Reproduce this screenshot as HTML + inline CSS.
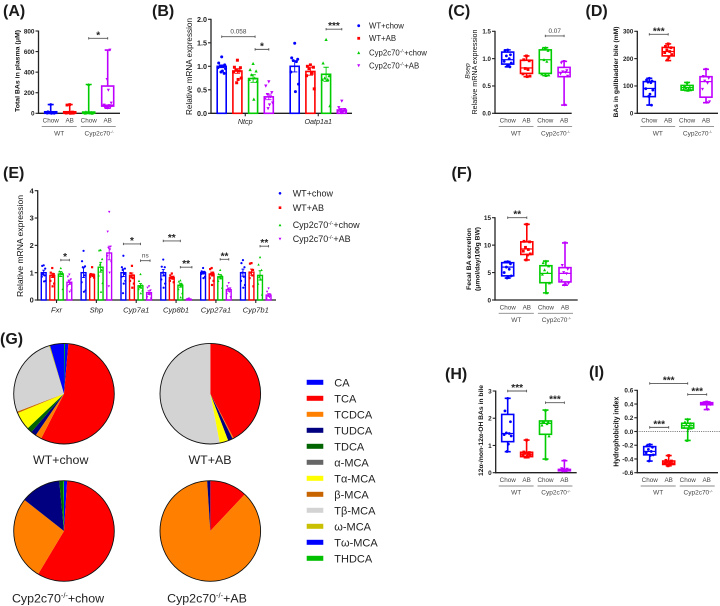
<!DOCTYPE html>
<html lang="en">
<head>
<meta charset="utf-8">
<title>Bile acid figure panels</title>
<style>
html,body{margin:0;padding:0;background:#fff;}
svg{display:block;font-family:"Liberation Sans",sans-serif;}
.letter{font-size:16px;font-weight:bold;fill:#1a1a1a;}
</style>
</head>
<body>
<svg id="fig" width="720" height="606" viewBox="0 0 720 606" xmlns="http://www.w3.org/2000/svg">
<rect width="720" height="606" fill="#fff"/>
<text class="letter" x="3" y="16">(A)</text>
<text class="letter" x="152" y="16">(B)</text>
<text class="letter" x="448" y="16">(C)</text>
<text class="letter" x="585.5" y="16">(D)</text>
<text class="letter" x="3" y="178">(E)</text>
<text class="letter" x="451.5" y="178">(F)</text>
<text class="letter" x="0" y="344">(G)</text>
<text class="letter" x="445" y="379">(H)</text>
<text class="letter" x="589" y="377">(I)</text>
</svg>
<script>
// ---------- shared categories ----------
const groupColors = ['#0000ff', '#ff0000', '#00cc00', '#bf00ff'];
const boxCategories = ['Chow', 'AB', 'Chow', 'AB'];
const legendGroups = ['WT+chow', 'WT+AB', 'Cyp2c70', 'Cyp2c70'];
const legendSuffix = ['', '', '+chow', '+AB'];

// ---------- panel A ----------
const aTicks = [0, 200, 400, 600, 800];
const aMin = [0, 0, 0, 50];
const aQ1 = [0, 0, 0, 70];
const aMed = [5, 5, 5, 80];
const aQ3 = [15, 15, 12, 265];
const aMax = [85, 85, 280, 615];
const aPoints = [[85, 15, 8, 5, 3, 2, 1, 0], [85, 80, 12, 6, 3, 2, 1, 0], [280, 15, 8, 5, 3, 1, 0], [50, 55, 60, 70, 75, 80, 100, 225, 330, 615]];

// ---------- panel C ----------
const cTicks = [0, 0.5, 1, 1.5];
const cMin = [0.85, 0.67, 0.69, 0.15];
const cQ1 = [0.9, 0.73, 0.73, 0.67];
const cMed = [0.98, 0.83, 0.98, 0.75];
const cQ3 = [1.12, 0.97, 1.16, 0.84];
const cMax = [1.16, 1.05, 1.2, 0.95];
const cPoints = [[1.16, 1.15, 1.07, 1.05, 1, 0.95, 0.92, 0.88, 0.86, 0.85], [1.05, 0.98, 0.96, 0.82, 0.8, 0.72, 0.68, 0.67], [1.2, 1.18, 1.15, 0.98, 0.95, 0.72, 0.7, 0.69], [0.95, 0.92, 0.78, 0.76, 0.75, 0.72, 0.68, 0.15]];

// ---------- panel D ----------
const dTicks = [0, 100, 200, 300];
const dMin = [30, 193, 83, 39];
const dQ1 = [61, 210, 85, 59];
const dMed = [91, 226, 94, 116];
const dQ3 = [116, 241, 102, 134];
const dMax = [128, 254, 113, 161];
const dPoints = [[128, 122, 118, 114, 112, 90, 85, 70, 62, 30], [254, 245, 240, 232, 226, 222, 215, 205, 195], [113, 100, 96, 94, 90, 88, 86, 84], [161, 135, 128, 118, 110, 88, 42, 39]];

// ---------- panel F ----------
const fTicks = [0, 5, 10, 15];
const fMin = [4, 7.3, 1.3, 2.7];
const fQ1 = [4.4, 8.3, 3.15, 3.3];
const fMed = [6, 9.3, 4.85, 4.85];
const fQ3 = [6.8, 10.6, 6.25, 5.9];
const fMax = [7, 13.8, 7.1, 10.4];
const fPoints = [[7, 6.9, 6.6, 6, 5.6, 5, 4.4, 4.1, 4], [13.8, 10.7, 10.6, 9.6, 9.2, 8.9, 8.4, 8.2, 7.3], [7.1, 6.8, 6.2, 5.5, 5, 4.7, 3.1, 1.3], [10.4, 6.3, 5.6, 5, 4.8, 3.5, 3, 2.8, 2.7]];

// ---------- panel H ----------
const hTicks = [0, 1, 2, 3];
const hMin = [0.77, 0.55, 0.5, 0.05];
const hQ1 = [1.14, 0.59, 1.41, 0.07];
const hMed = [1.44, 0.68, 1.81, 0.1];
const hQ3 = [2.14, 0.75, 1.9, 0.12];
const hMax = [2.73, 1.2, 2.3, 0.44];
const hPoints = [[2.73, 2.27, 1.87, 1.46, 1.44, 1.4, 1.35, 1.05, 0.78], [1.2, 0.76, 0.74, 0.72, 0.7, 0.66, 0.64, 0.6, 0.57], [2.3, 1.88, 1.87, 1.85, 1.8, 1.75, 1.35, 0.5], [0.44, 0.15, 0.13, 0.12, 0.1, 0.1, 0.08, 0.07, 0.05]];

// ---------- panel I ----------
const iTicks = [-0.6, -0.4, -0.2, 0, 0.2, 0.4, 0.6];
const iMin = [-0.43, -0.5, -0.13, 0.32];
const iQ1 = [-0.34, -0.48, 0.05, 0.39];
const iMed = [-0.29, -0.46, 0.085, 0.41];
const iQ3 = [-0.22, -0.43, 0.12, 0.42];
const iMax = [-0.19, -0.35, 0.18, 0.43];
const iPoints = [[-0.19, -0.21, -0.23, -0.26, -0.29, -0.31, -0.34, -0.35, -0.43], [-0.35, -0.42, -0.43, -0.44, -0.45, -0.46, -0.47, -0.48, -0.5], [0.18, 0.14, 0.12, 0.1, 0.08, 0.06, 0.05, 0.04, -0.13], [0.43, 0.42, 0.42, 0.41, 0.41, 0.4, 0.39, 0.32]];

// ---------- panel B ----------
const bGenes = ['Ntcp', 'Oatp1a1'];
const bTicks = [0, 0.5, 1, 1.5, 2];
const bMeans = [[1, 0.9, 0.74, 0.35], [1, 0.89, 0.83, 0.07]];
const bSems = [[0.03, 0.05, 0.08, 0.06], [0.12, 0.08, 0.15, 0.03]];
const bPoints = [
  [[1.2, 1.07, 1.03, 1, 1, 0.97, 0.95, 0.9, 0.88, 0.85], [1.13, 0.98, 0.97, 0.92, 0.9, 0.88, 0.75, 0.72, 0.65], [1.06, 0.93, 0.9, 0.82, 0.75, 0.72, 0.68, 0.3], [0.67, 0.58, 0.44, 0.4, 0.35, 0.3, 0.22, 0.18, 0.1]],
  [[1.49, 1.18, 1.15, 1.12, 1.1, 0.88, 0.62, 0.46], [1.03, 1, 0.98, 0.95, 0.85, 0.8, 0.52], [1.57, 1.07, 0.8, 0.75, 0.72, 0.72, 0.16], [0.26, 0.12, 0.08, 0.07, 0.05, 0.04, 0.03, 0.02, 0.01]]
];

// ---------- panel E ----------
const eGenes = ['Fxr', 'Shp', 'Cyp7a1', 'Cyp8b1', 'Cyp27a1', 'Cyp7b1'];
const eTicks = [0, 1, 2, 3, 4];
const eMeans = [[1, 0.9, 0.95, 0.65], [1, 0.92, 1.2, 1.72], [1, 0.9, 0.52, 0.27], [1, 0.82, 0.54, 0.02], [1, 0.95, 0.85, 0.38], [1, 1.02, 0.9, 0.18]];
const eSems = [[0.09, 0.08, 0.09, 0.08], [0.18, 0.04, 0.18, 0.25], [0.14, 0.09, 0.08, 0.07], [0.12, 0.04, 0.07, 0.01], [0.05, 0.07, 0.08, 0.06], [0.13, 0.11, 0.17, 0.05]];
const ePoints = [
  [[1.27, 1.25, 1.15, 0.95, 0.9, 0.85, 0.7, 0.68], [1.17, 1, 0.95, 0.9, 0.85, 0.7, 0.6, 0.5], [1.17, 1.05, 1, 0.97, 0.95, 0.9, 0.4], [0.93, 0.85, 0.75, 0.7, 0.6, 0.5, 0.35, 0.3]],
  [[1.8, 1.42, 1.23, 1.2, 0.9, 0.65, 0.35, 0.3], [1.2, 0.95, 0.93, 0.9, 0.88, 0.85, 0.82], [1.83, 1.82, 1.5, 1.3, 1.1, 0.9, 0.62, 0.3], [3.22, 2.5, 1.95, 1.9, 1.85, 1.6, 1.4, 1, 0.5]],
  [[1.62, 1.2, 1.15, 1.1, 0.95, 0.85, 0.7, 0.6, 0.25], [1.25, 0.98, 0.9, 0.85, 0.8, 0.7, 0.6, 0.45], [0.95, 0.7, 0.55, 0.5, 0.45, 0.4, 0.35, 0.25], [0.5, 0.45, 0.35, 0.25, 0.2, 0.1, 0.05]],
  [[1.48, 1.22, 1.2, 1, 0.9, 0.75, 0.6, 0.45], [0.97, 0.9, 0.85, 0.8, 0.78, 0.7, 0.65], [0.72, 0.68, 0.6, 0.55, 0.5, 0.4, 0.25, 0.1], [0.05, 0.03, 0.02, 0.02, 0.01, 0.01]],
  [[1.17, 1.05, 1.03, 1, 0.98, 0.95, 0.85, 0.8], [1.17, 1.13, 1, 0.95, 0.9, 0.8, 0.7, 0.55], [1.1, 0.95, 0.9, 0.85, 0.8, 0.7, 0.45], [0.62, 0.5, 0.42, 0.38, 0.3, 0.22, 0.1]],
  [[1.46, 1.35, 1.2, 1, 0.85, 0.7, 0.55, 0.45], [1.35, 1.33, 1.1, 1, 0.9, 0.8, 0.5], [1.57, 1.3, 1.1, 0.85, 0.75, 0.6, 0.2], [0.42, 0.3, 0.2, 0.15, 0.1, 0.05]]
];

// ---------- panel G ----------
const pieSpecies = ['CA', 'TCA', 'TCDCA', 'TUDCA', 'TDCA', 'α-MCA', 'Tα-MCA', 'β-MCA', 'Tβ-MCA', 'ω-MCA', 'Tω-MCA', 'THDCA'];
const pieColors = ['#0000ff', '#ff0000', '#ff8000', '#000080', '#006400', '#666666', '#ffff00', '#c86400', '#d3d3d3', '#c8c000', '#0000ff', '#00c000'];
const pieWtChow = [1.4, 56.1, 2, 1.7, 1.7, 0, 5.8, 0.5, 26, 0.3, 4.5, 0.3];
const pieWtAb = [0, 42.3, 0.4, 1.5, 0, 0, 2.8, 0, 53, 0, 0, 0];
const pieKoChow = [1, 57.6, 27, 12.9, 1.2, 0, 0, 0, 0, 0, 0, 0.3];
const pieKoAb = [0, 12, 87, 1, 0, 0, 0, 0, 0, 0, 0, 0];

// ---------- helpers ----------
const SVGNS = 'http://www.w3.org/2000/svg';
const fig = document.getElementById('fig');
function add(parent, tag, attrs, text) {
  const n = document.createElementNS(SVGNS, tag);
  for (const k in attrs) n.setAttribute(k, attrs[k]);
  if (text !== undefined) n.textContent = text;
  parent.appendChild(n);
  
  return n;
}
function linear(d0, d1, r0, r1) {
  return function (v) { return r0 + (v - d0) * (r1 - r0) / (d1 - d0); };
}
function jitter(i, n) {
  const pattern = [0, -2.5, 2.5, -1.2, 1.4, -3.2, 3.2, 0.6, -0.6, 2];
  return pattern[i % pattern.length] * n;
}
function drawMarker(g, group, x, y, s) {
  const c = groupColors[group];
  let el;
  if (group === 0) {
    el = add(g, 'circle', { cx: x, cy: y, r: s, fill: c });
  } else if (group === 1) {
    el = add(g, 'rect', { x: x - s, y: y - s, width: 2 * s, height: 2 * s, fill: c });
  } else if (group === 2) {
    el = add(g, 'polygon', { points: (x - s * 1.1) + ',' + (y + s) + ' ' + (x + s * 1.1) + ',' + (y + s) + ' ' + x + ',' + (y - s * 1.1), fill: c });
  } else {
    el = add(g, 'polygon', { points: (x - s * 1.1) + ',' + (y - s) + ' ' + (x + s * 1.1) + ',' + (y - s) + ' ' + x + ',' + (y + s * 1.1), fill: c });
  }
  
}
function drawAxes(g, opt, ticks, y) {
  const axisY = add(g, 'line', { x1: opt.x0, x2: opt.x0, y1: opt.top - 0.5, y2: opt.bottom + 0.6, stroke: '#222', 'stroke-width': 1.3 });
  
  const axisX = add(g, 'line', { x1: opt.x0 - 0.6, x2: opt.xEnd, y1: opt.bottom, y2: opt.bottom, stroke: '#222', 'stroke-width': 1.3 });
  
  ticks.forEach(function (t) {
    const tick = add(g, 'line', { x1: opt.x0 - 3, x2: opt.x0, y1: y(t), y2: y(t), stroke: '#222', 'stroke-width': 1.1 });
    
    const label = add(g, 'text', { x: opt.x0 - 4, y: y(t) + opt.tickSize * 0.36, 'text-anchor': 'end', 'font-size': opt.tickSize, 'font-weight': opt.tickWeight || 'normal', fill: '#222' }, t.toFixed(opt.digits));
    
  });
}
function drawYTitle(g, x, cy, text, size, len, bold, italic) {
  const attrs = { x: 0, y: 0, transform: 'translate(' + x + ',' + cy + ') rotate(-90)', 'text-anchor': 'middle', 'font-size': size, fill: '#111' };
  if (len) { attrs.textLength = len; attrs.lengthAdjust = 'spacingAndGlyphs'; }
  if (bold) attrs['font-weight'] = 'bold';
  if (italic) attrs['font-style'] = 'italic';
  const t = add(g, 'text', attrs, text);
  
}
function drawBracket(g, x1, x2, yy, label) {
  const ln = add(g, 'path', { d: 'M' + x1 + ' ' + (yy - 1.2) + 'V' + (yy + 1.2) + 'M' + x1 + ' ' + yy + 'H' + x2 + 'M' + x2 + ' ' + (yy - 1.2) + 'V' + (yy + 1.2), fill: 'none', stroke: '#555', 'stroke-width': 0.9 });
  
  const isStar = label.indexOf('*') >= 0;
  const t = add(g, 'text', { x: (x1 + x2) / 2, y: isStar ? yy : yy - 3, 'text-anchor': 'middle', 'font-size': isStar ? 10 : 6.4, 'font-weight': isStar ? 'bold' : 'normal', fill: isStar ? '#222' : '#444' }, label);
  
}
function drawSuperName(g, x, yy, size, fill, suffix, anchor) {
  const t = add(g, 'text', { x: x, y: yy, 'text-anchor': anchor, 'font-size': size, fill: fill }, 'Cyp2c70');
  
  const sup = add(t, 'tspan', { dy: -size * 0.36, 'font-size': size * 0.6 }, '-/-');
  
  if (suffix) {
    const rest = add(t, 'tspan', { dy: size * 0.36 }, suffix);
    
  }
  return t;
}

// ---------- box-plot panels ----------
function drawBoxPanel(name, opt, ticks, mins, q1s, meds, q3s, maxs, points) {
  const g = add(fig, 'g', {});
  
  const y = linear(opt.dMin, opt.dMax, opt.bottom, opt.top);
  const x = function (i) { return opt.cat0 + i * opt.catStep; };
  drawAxes(g, opt, ticks, y);
  boxCategories.forEach(function (cat, i) {
    const c = groupColors[i];
    const cx = x(i);
    const wh = add(g, 'path', { d: 'M' + cx + ' ' + y(maxs[i]) + 'V' + y(q3s[i]) + 'M' + cx + ' ' + y(q1s[i]) + 'V' + y(mins[i]) + 'M' + (cx - 3) + ' ' + y(maxs[i]) + 'H' + (cx + 3) + 'M' + (cx - 3) + ' ' + y(mins[i]) + 'H' + (cx + 3), fill: 'none', stroke: c, 'stroke-width': 1.6 });
    
    const box = add(g, 'rect', { x: cx - 6, y: y(q3s[i]), width: 12, height: Math.max(0.5, y(q1s[i]) - y(q3s[i])), fill: '#fff', stroke: c, 'stroke-width': 1.6 });
    
    const med = add(g, 'line', { x1: cx - 6, x2: cx + 6, y1: y(meds[i]), y2: y(meds[i]), stroke: c, 'stroke-width': 1.2 });
    
    points[i].forEach(function (p, k) {
      drawMarker(g, i, cx + jitter(k, 1.1), y(p), 1.4);
    });
    const lab = add(g, 'text', { x: cx, y: opt.bottom + 9.4, 'text-anchor': 'middle', 'font-size': 6.3, fill: '#444' }, cat);
    
  });
  const lineY = opt.bottom + 13.3;
  const l1 = add(g, 'line', { x1: x(0) - 9, x2: x(1) + 7, y1: lineY, y2: lineY, stroke: '#888', 'stroke-width': 0.9 });
  
  const l2 = add(g, 'line', { x1: x(2) - 8, x2: x(3) + 8, y1: lineY, y2: lineY, stroke: '#888', 'stroke-width': 0.9 });
  
  const wt = add(g, 'text', { x: (x(0) + x(1)) / 2 - 1, y: opt.bottom + 22, 'text-anchor': 'middle', 'font-size': 6.5, fill: '#444' }, 'WT');
  
  drawSuperName(g, (x(2) + x(3)) / 2 + 1, opt.bottom + 22, 6.5, '#444', '', 'middle');
  opt.brackets.forEach(function (b) {
    drawBracket(g, x(b.from), x(b.to), y(b.value), b.label);
  });
  return { g: g, y: y };
}

const pA = drawBoxPanel('a', { x0: 38.5, xEnd: 120, top: 31, bottom: 113.3, dMin: 0, dMax: 800, cat0: 50.7, catStep: 19, tickSize: 6.4, tickWeight: 'bold', digits: 0, brackets: [{ from: 2, to: 3, value: 729, label: '*' }] }, aTicks, aMin, aQ1, aMed, aQ3, aMax, aPoints);
drawYTitle(pA.g, 19.5, 71, 'Total BAs in plasma (μM)', 6.8, 82, true);

const pC = drawBoxPanel('c', { x0: 495, xEnd: 571.7, top: 31.3, bottom: 113.3, dMin: 0, dMax: 1.5, cat0: 507.7, catStep: 18.8, tickSize: 6.2, tickWeight: 'bold', digits: 1, brackets: [{ from: 2, to: 3, value: 1.415, label: '0.07' }] }, cTicks, cMin, cQ1, cMed, cQ3, cMax, cPoints);
drawYTitle(pC.g, 469.5, 71, 'Bsep', 6.8, 0, false, true);
drawYTitle(pC.g, 477, 72, 'Relative mRNA expression', 7, 85, false);

const pD = drawBoxPanel('d', { x0: 637.3, xEnd: 718, top: 31.3, bottom: 113.3, dMin: 0, dMax: 300, cat0: 649.3, catStep: 18.9, tickSize: 6.2, tickWeight: 'bold', digits: 0, brackets: [{ from: 0, to: 1, value: 289, label: '***' }] }, dTicks, dMin, dQ1, dMed, dQ3, dMax, dPoints);
drawYTitle(pD.g, 618, 72, 'BAs in gallbladder bile (mM)', 6.8, 91, true);

const pF = drawBoxPanel('f', { x0: 495, xEnd: 577.7, top: 217.7, bottom: 300, dMin: 0, dMax: 15, cat0: 507.7, catStep: 19.1, tickSize: 6.4, tickWeight: 'bold', digits: 0, brackets: [{ from: 0, to: 1, value: 15, label: '**' }] }, fTicks, fMin, fQ1, fMed, fQ3, fMax, fPoints);
drawYTitle(pF.g, 471, 259, 'Fecal BA excretion', 6.8, 62, true);
drawYTitle(pF.g, 479.5, 259, '(μmol/day/100g BW)', 6.8, 64, true);

const pH = drawBoxPanel('h', { x0: 495.7, xEnd: 576.7, top: 391, bottom: 472.7, dMin: 0, dMax: 3, cat0: 507.7, catStep: 18.9, tickSize: 6.4, tickWeight: 'bold', digits: 0, brackets: [{ from: 0, to: 1, value: 3, label: '***' }, { from: 2, to: 3, value: 2.57, label: '***' }] }, hTicks, hMin, hQ1, hMed, hQ3, hMax, hPoints);
drawYTitle(pH.g, 483, 430.5, '12α-/non-12α-OH BAs in bile', 6.8, 91, true);

const pI = drawBoxPanel('i', { x0: 637.3, xEnd: 718, top: 390.3, bottom: 472.7, dMin: -0.6, dMax: 0.6, cat0: 649.7, catStep: 19, tickSize: 6.4, tickWeight: 'bold', digits: 1, brackets: [{ from: 0, to: 2, value: 0.7, label: '***' }, { from: 2, to: 3, value: 0.54, label: '***' }, { from: 0, to: 1, value: 0.06, label: '***' }] }, iTicks, iMin, iQ1, iMed, iQ3, iMax, iPoints);
drawYTitle(pI.g, 618.5, 431.7, 'Hydrophobicity index', 7, 70, true);
const zeroLine = add(pI.g, 'line', { x1: 637.3, x2: 720, y1: pI.y(0), y2: pI.y(0), stroke: '#444', 'stroke-width': 0.7, 'stroke-dasharray': '1 1.2' });


// ---------- bar panels ----------
function drawBarPanel(name, opt, ticks, genes, means, sems, points) {
  const g = add(fig, 'g', {});
  
  const y = linear(0, opt.dMax, opt.bottom, opt.top);
  const x = function (gene, group) { return opt.start + gene * opt.geneStep + group * opt.groupStep; };
  drawAxes(g, opt, ticks, y);
  genes.forEach(function (gene, gi) {
    means[gi].forEach(function (m, k) {
      const c = groupColors[k];
      const cx = x(gi, k);
      const bar = add(g, 'rect', { x: cx - opt.barW / 2, y: y(m), width: opt.barW, height: Math.max(0.3, opt.bottom - y(m)), fill: 'none', stroke: c, 'stroke-width': opt.barStroke });
      
      const top = y(m + sems[gi][k]);
      const low = y(Math.max(0, m - sems[gi][k]));
      const err = add(g, 'path', { d: 'M' + cx + ' ' + low + 'V' + top + 'M' + (cx - opt.barW * 0.3) + ' ' + top + 'H' + (cx + opt.barW * 0.3) + 'M' + (cx - opt.barW * 0.3) + ' ' + low + 'H' + (cx + opt.barW * 0.3), fill: 'none', stroke: c, 'stroke-width': 0.9 });
      
      points[gi][k].forEach(function (p, j) {
        drawMarker(g, k, cx + jitter(j, opt.jit), y(p), opt.marker);
      });
    });
    const center = (x(gi, 0) + x(gi, 3)) / 2;
    const tk = add(g, 'line', { x1: center, x2: center, y1: opt.bottom, y2: opt.bottom + 3, stroke: '#222', 'stroke-width': 1.1 });
    
    const lab = add(g, 'text', { x: center, y: opt.bottom + opt.labelGap, 'text-anchor': 'middle', 'font-size': opt.labelSize, 'font-style': 'italic', fill: '#222' }, gene);
    
  });
  opt.brackets.forEach(function (b) {
    drawBracket(g, x(b.gene, b.from) + (b.shift1 || 0), x(b.gene, b.to) + (b.shift2 || 0), y(b.value), b.label);
  });
  return g;
}
const gB = drawBarPanel('b', { x0: 211, xEnd: 352, top: 19.3, bottom: 113.3, dMax: 2, start: 221.7, geneStep: 73, groupStep: 15.7, barW: 9, barStroke: 1.6, marker: 1.5, jit: 1.2, labelGap: 10.8, labelSize: 7.2, tickSize: 7.2, tickWeight: 'bold', digits: 1, brackets: [
  { gene: 0, from: 0, to: 2, value: 1.63, label: '0.058', shift2: 2 },
  { gene: 0, from: 2, to: 3, value: 1.36, label: '*', shift1: 2 },
  { gene: 1, from: 2, to: 3, value: 1.79, label: '***' }
] }, bTicks, bGenes, bMeans, bSems, bPoints);
drawYTitle(gB, 192, 66.5, 'Relative mRNA expression', 8, 97, false);

const gE = drawBarPanel('e', { x0: 37.7, xEnd: 276, top: 190.7, bottom: 300, dMax: 4, start: 43.7, geneStep: 39.85, groupStep: 8.55, barW: 4.8, barStroke: 1.4, marker: 1.1, jit: 0.6, labelGap: 12.5, labelSize: 7.6, tickSize: 7.4, tickWeight: 'bold', digits: 0, brackets: [
  { gene: 0, from: 2, to: 3, value: 1.46, label: '*' },
  { gene: 2, from: 0, to: 2, value: 2.05, label: '*' },
  { gene: 2, from: 2, to: 3, value: 1.44, label: 'ns', shift2: 1 },
  { gene: 3, from: 0, to: 2, value: 2.16, label: '**' },
  { gene: 3, from: 2, to: 3, value: 1.2, label: '**', shift2: 3 },
  { gene: 4, from: 2, to: 3, value: 1.49, label: '**' },
  { gene: 5, from: 2, to: 3, value: 1.97, label: '**' }
] }, eTicks, eGenes, eMeans, eSems, ePoints);
drawYTitle(gE, 23, 246, 'Relative mRNA expression', 8.4, 102, false);

// ---------- group legends ----------
function drawGroupLegend(name, markerX, textX, rows, size, markerSize) {
  const g = add(fig, 'g', {});
  
  legendGroups.forEach(function (label, i) {
    drawMarker(g, i, markerX, rows[i], markerSize);
    if (i < 2) {
      const t = add(g, 'text', { x: textX, y: rows[i] + size * 0.36, 'font-size': size, fill: '#222' }, label);
      
    } else {
      drawSuperName(g, textX, rows[i] + size * 0.36, size, '#222', legendSuffix[i], 'start');
    }
  });
}
drawGroupLegend('legend-b', 358.7, 369, [25.7, 38.3, 52.7, 65.7], 7.8, 1.4);
drawGroupLegend('legend-e', 280, 292.7, [193.3, 207.7, 225, 239], 9, 1.3);

// ---------- pies ----------
function drawPie(name, cx, cy, r, values, labelX, labelY, isKo, suffix) {
  const g = add(fig, 'g', {});
  
  let acc = 0;
  values.forEach(function (v, i) {
    if (v <= 0) return;
    const a0 = acc / 100 * 2 * Math.PI;
    acc += v;
    const a1 = acc / 100 * 2 * Math.PI;
    const large = (a1 - a0) > Math.PI ? 1 : 0;
    const d = 'M' + cx + ' ' + cy + 'L' + (cx + r * Math.sin(a0)) + ' ' + (cy - r * Math.cos(a0)) + 'A' + r + ' ' + r + ' 0 ' + large + ' 1 ' + (cx + r * Math.sin(a1)) + ' ' + (cy - r * Math.cos(a1)) + 'Z';
    const slice = add(g, 'path', { d: d, fill: pieColors[i] });
    
  });
  const rim = add(g, 'circle', { cx: cx, cy: cy, r: r, fill: 'none', stroke: '#111', 'stroke-width': 0.9 });
  
  if (isKo) {
    drawSuperName(g, labelX, labelY, 12.4, '#222', suffix, 'middle');
  } else {
    const t = add(g, 'text', { x: labelX, y: labelY, 'text-anchor': 'middle', 'font-size': 12.4, fill: '#222' }, name);
    
  }
}
drawPie('WT+chow', 64, 393.7, 50.3, pieWtChow, 60.7, 464, false);
drawPie('WT+AB', 210.3, 393.7, 50.3, pieWtAb, 210, 464, false);
drawPie('Cyp2c70-chow', 64, 531, 50.3, pieKoChow, 58, 602.5, true, '+chow');
drawPie('Cyp2c70-AB', 210.3, 531, 50.3, pieKoAb, 207, 602.5, true, '+AB');

const pieLegend = add(fig, 'g', {});

pieSpecies.forEach(function (s, i) {
  const rowY = 382.3 + i * 16;
  const sw = add(pieLegend, 'rect', { x: 306.7, y: rowY - 2.5, width: 16.6, height: 5, fill: pieColors[i] });
  
  const t = add(pieLegend, 'text', { x: 334.3, y: rowY + 4, 'font-size': 11, fill: '#222' }, s);
  
});
</script>
</body>
</html>
